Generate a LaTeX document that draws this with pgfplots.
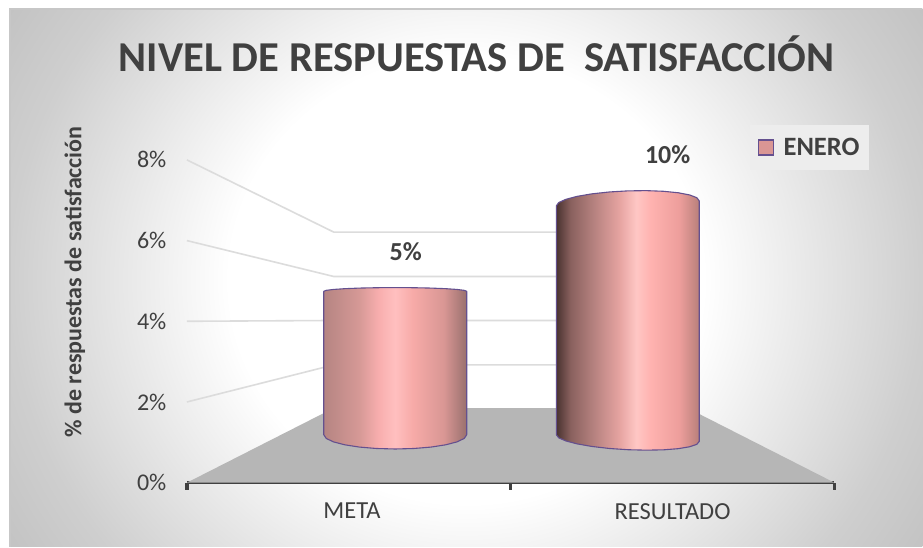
\documentclass[border=0pt]{standalone}
\usepackage{fontspec}
\setmainfont{Carlito}
\usepackage{pgfplots}
\pgfplotsset{compat=1.18}
\definecolor{txt}{HTML}{404040}
\definecolor{gridc}{HTML}{DCDCDC}
\definecolor{floorc}{HTML}{B6B6B6}
\definecolor{edge}{HTML}{64508F}
\definecolor{legf}{HTML}{D99694}
\pgfdeclareradialshading{chartbg}{\pgfpoint{0bp}{0bp}}{
 color(0bp)=(white); color(13bp)=(white); color(25bp)=(white!81!black); color(30bp)=(white!76!black); color(50bp)=(white!76!black)}
\pgfdeclarehorizontalshading{cylA}{100bp}{
 rgb(0bp)=(.71,.52,.51); rgb(25bp)=(.71,.52,.51); rgb(37.5bp)=(.84,.60,.59); rgb(44bp)=(.97,.68,.68); rgb(50bp)=(1,.75,.75); rgb(56bp)=(.97,.67,.66); rgb(67bp)=(.85,.59,.58); rgb(75bp)=(.60,.44,.43); rgb(100bp)=(.60,.44,.43)}
\pgfdeclarehorizontalshading{cylB}{100bp}{
 rgb(0bp)=(.29,.20,.19); rgb(25bp)=(.29,.20,.19); rgb(30bp)=(.54,.38,.37); rgb(37.5bp)=(.70,.50,.49); rgb(47bp)=(.90,.64,.63); rgb(53bp)=(1,.78,.77); rgb(58bp)=(1,.70,.69); rgb(68bp)=(.93,.62,.61); rgb(75bp)=(.72,.50,.48); rgb(100bp)=(.72,.50,.48)}
\begin{document}
\begin{tikzpicture}[x=1pt,y=1pt]
\path (0,0) rectangle (923,547);
\begin{scope}
\clip (10,0) rectangle (923,538);
\shade[shading=chartbg] (10,-163) rectangle (923,697);
\end{scope}
\draw[color=white!78!black,line width=1.2pt] (10,0) -- (10,538) -- (923,538);
\begin{axis}[
  at={(187pt,64pt)}, anchor=south west, scale only axis,
  width=648pt, height=323pt,
  xmin=0, xmax=2, ymin=0, ymax=8, clip=false,
  axis x line=bottom, axis y line=left,
  x axis line style={-, draw=txt, line width=3pt},
  y axis line style={draw=none},
  tick align=outside,
  xtick={0,1,2}, xticklabels={},
  x tick style={draw=txt, line width=3.5pt},
  major tick length=7pt,
  extra x ticks={0.51,1.5},
  extra x tick labels={META,RESULTADO},
  extra x tick style={major tick length=0pt, x tick label style={font=\fontsize{24.5}{26}\selectfont, text=txt, yshift=-17pt}},
  ytick={0,2,4,6,8},
  yticklabels={0\%,2\%,4\%,6\%,8\%},
  y tick style={draw=none},
  yticklabel style={font=\fontsize{24}{26}\selectfont, text=txt, xshift=-10pt},
  title={NIVEL DE RESPUESTAS DE \ SATISFACCIÓN},
  title style={at={(axis description cs:0.4475,1.31)}, anchor=center, font=\fontsize{42.6}{48}\selectfont\bfseries, text=txt},
  ylabel={\% de respuestas de satisfacción},
  ylabel style={at={(axis description cs:-0.173,0.622)}, anchor=center, rotate=0, font=\fontsize{24}{28}\selectfont\bfseries, text=txt},
  legend style={at={(axis cs:1.923,8.3)}, anchor=center, draw=none, fill=white!93!black, font=\fontsize{26.5}{30}\selectfont\bfseries, text=txt, inner xsep=7.5pt, inner ysep=11pt},
  legend image code/.code={\draw[#1] (2.5pt,-7pt) rectangle (17.5pt,8pt);},
]
\addlegendimage{fill=legf, draw=edge, line width=1.5pt}
\addlegendentry{\hspace{7.5pt}ENERO}
% floor
\addplot[forget plot, draw=none, fill=floorc] coordinates {(0,0) (2,0) (1.5463,1.85) (0.4537,1.85)} -- cycle;
% wall and side grid lines
\addplot[forget plot, draw=gridc, line width=1.6pt] coordinates {(0,8) (0.4537,6.21) (1.5463,6.21)};
\addplot[forget plot, draw=gridc, line width=1.6pt] coordinates {(0,6) (0.4537,5.11) (1.5463,5.11)};
\addplot[forget plot, draw=gridc, line width=1.6pt] coordinates {(0,4) (0.4537,4.02) (1.5463,4.02)};
\addplot[forget plot, draw=gridc, line width=1.6pt] coordinates {(0,2) (0.4537,2.92) (1.5463,2.92)};
% META cylinder
\addplot[forget plot, draw=edge, line width=1.1pt, shading=cylA, line join=round] coordinates {
 (.4228,4.743) (.4303,4.767) (.4524,4.789) (.4874,4.808) (.5331,4.823) (.5864,4.832) (.6435,4.835)
 (.7006,4.832) (.7539,4.823) (.7996,4.808) (.8346,4.789) (.8567,4.767) (.8642,4.743)
 (.8642,1.189) (.8567,1.097) (.8346,1.012) (.7996,.939) (.7539,.882) (.7006,.847) (.6435,.835)
 (.5864,.847) (.5331,.882) (.4874,.939) (.4524,1.012) (.4303,1.097) (.4228,1.189)} -- cycle;
% RESULTADO cylinder
\addplot[forget plot, draw=edge, line width=1.1pt, shading=cylB, line join=round] coordinates {
 (1.1410,6.861) (1.1485,6.943) (1.1706,7.023) (1.2056,7.097) (1.2514,7.159) (1.3046,7.205) (1.3617,7.232)
 (1.4188,7.238) (1.4720,7.222) (1.5178,7.185) (1.5528,7.131) (1.5749,7.063) (1.5824,6.985)
 (1.5824,1.023) (1.5749,.951) (1.5528,.890) (1.5178,.843) (1.4720,.814) (1.4188,.806) (1.3617,.817)
 (1.3046,.848) (1.2514,.897) (1.2056,.961) (1.1706,1.034) (1.1485,1.111) (1.1410,1.189)} -- cycle;
% data labels
\node[font=\fontsize{26}{30}\selectfont\bfseries, text=txt] at (axis cs:0.676,5.72) {5\%};
\node[font=\fontsize{26}{30}\selectfont\bfseries, text=txt] at (axis cs:1.485,8.12) {10\%};
\end{axis}
\end{tikzpicture}
\end{document}
